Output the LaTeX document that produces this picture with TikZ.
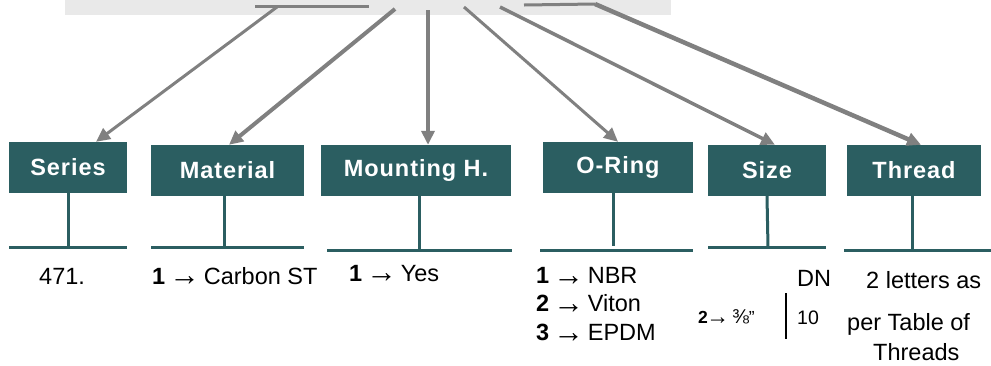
\documentclass[tikz,border=0pt]{standalone}
\usepackage{fontspec}
\setmainfont{Liberation Sans}
\newfontfamily\boxfont[LetterSpace=4]{Liberation Sans}
\usetikzlibrary{arrows.meta,positioning}
\definecolor{tealbox}{RGB}{43,94,97}
\definecolor{bargray}{RGB}{233,233,233}
\definecolor{arrowgray}{RGB}{128,128,128}
\newlength{\pickw}
\newcommand{\pickarrow}{\settowidth{\pickw}{→}\addtolength{\pickw}{2pt}%
  \makebox[\pickw][c]{\raisebox{-0.08em}{\scalebox{1.3}[1.35]{→}}}}
\tikzset{
  >={Triangle[length=14pt,width=13pt]},
  field/.style={fill=tealbox, text=white, inner sep=0pt, minimum height=51pt,
    font=\boxfont\fontsize{23.5}{27}\selectfont\bfseries},
  pick/.style={draw=arrowgray, ->, line width=#1},
  stem/.style={draw=tealbox, line width=3pt},
  entry/.style={anchor=base west, inner sep=0pt, font=\fontsize{23.5}{28}\selectfont},
}

\begin{document}
\begin{tikzpicture}[x=1pt,y=-1pt]
\useasboundingbox (0,0) rectangle (991,365);

% code bar on top
\node[fill=bargray, anchor=north west, inner sep=0pt,
  minimum width=606pt, minimum height=14.5pt] (codebar) at (65,0) {};
\coordinate (cSeries) at (277,7);
\coordinate (cMaterial) at (395,9);
\coordinate (cMount) at (428,10);
\coordinate (cORing) at (464,7);
\coordinate (cSize) at (500,7);
\coordinate (cThread) at (595,4);
\draw[arrowgray, line width=3pt] (255,6) -- (369,6);
\draw[arrowgray, line width=3pt] (524,5) -- (cThread);

% fields
\node[field, minimum width=118pt] (series) at (68,167.5) {Series};
\node[field, minimum width=153pt] (material) at (227.5,170.5) {Material};
\node[field, minimum width=190pt] (mount) at (416,170.5) {Mounting H.};
\node[field, minimum width=150pt] (oring) at (618,167.5) {O-Ring};
\node[field, minimum width=118pt] (size) at (767,170.5) {Size};
\node[field, minimum width=134pt] (thread) at (914,170.5) {Thread};

% arrows from the code
\draw[pick=3pt] (cSeries) -- ([xshift=28pt]series.north);
\draw[pick=4pt] (cMaterial) -- ([xshift=1.5pt]material.north);
\draw[pick=4pt] (cMount) -- ([xshift=12pt]mount.north);
\draw[pick=3pt] (cORing) -- (oring.north);
\draw[pick=3.5pt] (cSize) -- ([xshift=8pt]size.north);
\draw[pick=4.5pt] (cThread) -- ([xshift=7pt]thread.north);

% stems and bars
\draw[stem] (series.south) -- (68,247);
\draw[stem] (9,247) -- (127,247);
\draw[stem] ([xshift=-3.5pt]material.south) -- (224,247);
\draw[stem] (151,247) -- (304,247);
\draw[stem] ([xshift=3pt]mount.south) -- (419,250);
\draw[stem] (327,250) -- (512,250);
\draw[stem] ([xshift=-5pt]oring.south) -- (613,246);
\draw[stem] (540,250) -- (693,250);
\draw[stem] (size.south) -- (768,247);
\draw[stem] (708,247) -- (826,247);
\draw[stem] ([xshift=-2pt]thread.south) -- (912,250);
\draw[stem] (844,250) -- (991,250);

% values
\node[entry] (vSeries) at (39,284) {471.};
\node[entry] (vMaterial) at (152,284) {\textbf{1} \pickarrow{} Carbon ST};
\node[entry] (vMount) at (349,281) {\textbf{1} \pickarrow{} Yes};
\node[entry, anchor=north west, align=left, font=\fontsize{23.5}{28.5}\selectfont]
  (vORing) at (536,267) {\textbf{1} \pickarrow{} NBR\\ \textbf{2} \pickarrow{} Viton\\ \textbf{3} \pickarrow{} EPDM};
\node[entry] (vSizeDN) at (797,286) {DN};
\node[entry, font=\fontsize{19.5}{23}\selectfont] (vSizeDN10) at (797,324) {10};
\node[entry, font=\fontsize{17.5}{21}\selectfont] (vSize2) at (698,323) {\textbf{2}\pickarrow{} {\fontsize{20}{22}\selectfont⅜}”};
\draw[line width=2.5pt] (786,293) -- (786,339);
\node[entry] (vThread1) at (866,288) {2 letters as};
\node[entry] (vThread2) at (847,330) {per Table of};
\node[entry] (vThread3) at (873,360) {Threads};
\end{tikzpicture}
\end{document}
